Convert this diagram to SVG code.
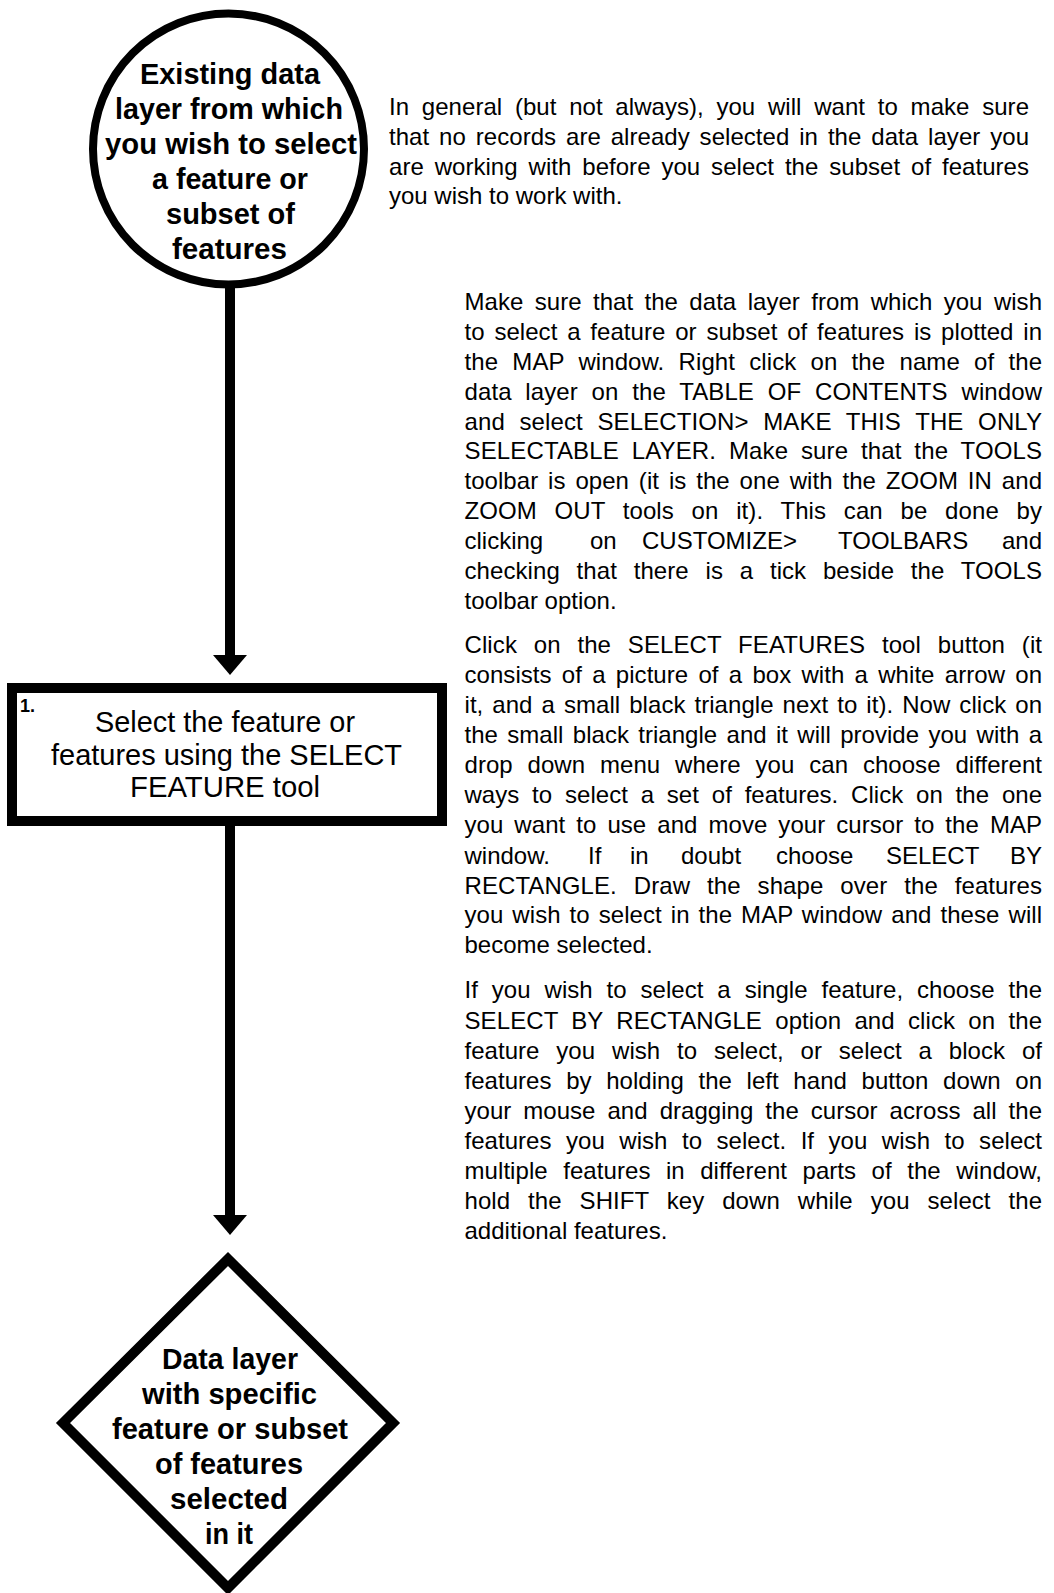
<svg xmlns="http://www.w3.org/2000/svg" width="1054" height="1593" viewBox="0 0 1054 1593">
<style>
.shape{fill:#fff;stroke:#000}
.bold{font-family:"Liberation Sans",Arial,sans-serif;font-weight:bold;font-size:29px;fill:#000;text-anchor:middle}
.box{font-family:"Liberation Sans",Arial,sans-serif;font-size:29px;fill:#000;text-anchor:middle}
.num{font-family:"Liberation Sans",Arial,sans-serif;font-weight:bold;font-size:18px;fill:#000}
.p{font-family:"Liberation Sans",Arial,sans-serif;font-size:24px;fill:#000}
.end{text-anchor:end}
.conn{stroke:#000;stroke-width:10;fill:none}
</style>
<defs>
<marker id="ah" markerUnits="userSpaceOnUse" viewBox="0 0 20 34" markerWidth="20" markerHeight="34" refX="5" refY="17" orient="auto">
<path d="M0,0 L20,17 L0,34 Z" fill="#000"/>
</marker>
</defs>
<rect width="1054" height="1593" fill="#fff"/>

<g id="connectors">
<line class="conn" x1="230" y1="284" x2="230" y2="660" marker-end="url(#ah)"/>
<line class="conn" x1="230" y1="822" x2="230" y2="1220" marker-end="url(#ah)"/>
</g>

<g id="start">
<circle class="shape" cx="228.5" cy="149" r="135.5" stroke-width="8"/>
<text class="bold" x="230" y="84" textLength="180" lengthAdjust="spacingAndGlyphs">Existing data</text>
<text class="bold" x="229" y="119" textLength="228" lengthAdjust="spacingAndGlyphs">layer from which</text>
<text class="bold" x="231" y="154" textLength="252" lengthAdjust="spacingAndGlyphs">you wish to select</text>
<text class="bold" x="230" y="189" textLength="156" lengthAdjust="spacingAndGlyphs">a feature or</text>
<text class="bold" x="230.5" y="224" textLength="129" lengthAdjust="spacingAndGlyphs">subset of</text>
<text class="bold" x="229.5" y="259" textLength="115" lengthAdjust="spacingAndGlyphs">features</text>
</g>

<g id="step1">
<rect class="shape" x="12" y="688" width="430" height="133" stroke-width="10"/>
<text class="num" x="20" y="712">1.</text>
<text class="box" x="225" y="732" textLength="260" lengthAdjust="spacingAndGlyphs">Select the feature or</text>
<text class="box" x="226.5" y="764.5" textLength="351" lengthAdjust="spacingAndGlyphs">features using the SELECT</text>
<text class="box" x="225" y="797" textLength="190" lengthAdjust="spacingAndGlyphs">FEATURE tool</text>
</g>

<g id="result">
<polygon class="shape" points="228,1259 393,1423 228,1588 63,1423" stroke-width="10"/>
<text class="bold" x="230" y="1369" textLength="136" lengthAdjust="spacingAndGlyphs">Data layer</text>
<text class="bold" x="229.5" y="1404" textLength="175" lengthAdjust="spacingAndGlyphs">with specific</text>
<text class="bold" x="230" y="1439" textLength="236" lengthAdjust="spacingAndGlyphs">feature or subset</text>
<text class="bold" x="229" y="1474" textLength="148" lengthAdjust="spacingAndGlyphs">of features</text>
<text class="bold" x="229" y="1509" textLength="118" lengthAdjust="spacingAndGlyphs">selected</text>
<text class="bold" x="229" y="1544" textLength="48" lengthAdjust="spacingAndGlyphs">in it</text>
</g>

<g id="note-general">
<text class="p" x="389" y="115" textLength="640" style="word-spacing:6px">In general (but not always), you will want to make sure</text>
<text class="p" x="389" y="145" textLength="640" style="word-spacing:3.2px">that no records are already selected in the data layer you</text>
<text class="p" x="389" y="175" textLength="640" style="word-spacing:4.2px">are working with before you select the subset of features</text>
<text class="p" x="389" y="204">you wish to work with.</text>
</g>

<g id="note-prepare">
<text class="p" x="464.5" y="310" textLength="577.5" style="word-spacing:4.7px">Make sure that the data layer from which you wish</text>
<text class="p" x="464.5" y="340" textLength="577.5" style="word-spacing:3.1px">to select a feature or subset of features is plotted in</text>
<text class="p" x="464.5" y="369.5" textLength="577.5" style="word-spacing:7.5px">the MAP window. Right click on the name of the</text>
<text class="p" x="464.5" y="399.5" textLength="577.5" style="word-spacing:7px">data layer on the TABLE OF CONTENTS window</text>
<text class="p" x="464.5" y="429.5" textLength="577.5" style="word-spacing:7.9px">and select SELECTION&gt; MAKE THIS THE ONLY</text>
<text class="p" x="464.5" y="459" textLength="577.5" style="word-spacing:6px">SELECTABLE LAYER. Make sure that the TOOLS</text>
<text class="p" x="464.5" y="489" textLength="577.5" style="word-spacing:3.2px">toolbar is open (it is the one with the ZOOM IN and</text>
<text class="p" x="464.5" y="519" textLength="577.5" style="word-spacing:11px">ZOOM OUT tools on it). This can be done by</text>
<text class="p" y="549"><tspan x="464.5">clicking</tspan><tspan x="590">on</tspan><tspan x="642">CUSTOMIZE&gt;</tspan><tspan x="838">TOOLBARS</tspan><tspan x="1042" class="end">and</tspan></text>
<text class="p" x="464.5" y="578.5" textLength="577.5" style="word-spacing:10px">checking that there is a tick beside the TOOLS</text>
<text class="p" x="464.5" y="608.5">toolbar option.</text>
</g>

<g id="note-select">
<text class="p" x="464.5" y="652.5" textLength="577.5" style="word-spacing:10px">Click on the SELECT FEATURES tool button (it</text>
<text class="p" x="464.5" y="682.5" textLength="577.5" style="word-spacing:3.5px">consists of a picture of a box with a white arrow on</text>
<text class="p" x="464.5" y="712.5" textLength="577.5" style="word-spacing:2.3px">it, and a small black triangle next to it). Now click on</text>
<text class="p" x="464.5" y="742.5" textLength="577.5" style="word-spacing:2.6px">the small black triangle and it will provide you with a</text>
<text class="p" x="464.5" y="772.5" textLength="577.5" style="word-spacing:8.2px">drop down menu where you can choose different</text>
<text class="p" x="464.5" y="803" textLength="577.5" style="word-spacing:6.1px">ways to select a set of features. Click on the one</text>
<text class="p" x="464.5" y="833" textLength="577.5" style="word-spacing:4.3px">you want to use and move your cursor to the MAP</text>
<text class="p" y="863.5"><tspan x="464.5">window.</tspan><tspan x="588">If</tspan><tspan x="630">in</tspan><tspan x="681">doubt</tspan><tspan x="776">choose</tspan><tspan x="886">SELECT</tspan><tspan x="1042" class="end">BY</tspan></text>
<text class="p" x="464.5" y="893.5" textLength="577.5" style="word-spacing:10.2px">RECTANGLE. Draw the shape over the features</text>
<text class="p" x="464.5" y="923" textLength="577.5" style="word-spacing:2.3px">you wish to select in the MAP window and these will</text>
<text class="p" x="464.5" y="953">become selected.</text>
</g>

<g id="note-single">
<text class="p" x="464.5" y="998" textLength="577.5" style="word-spacing:7.2px">If you wish to select a single feature, choose the</text>
<text class="p" x="464.5" y="1028.5" textLength="577.5" style="word-spacing:6.5px">SELECT BY RECTANGLE option and click on the</text>
<text class="p" x="464.5" y="1059" textLength="577.5" style="word-spacing:10.2px">feature you wish to select, or select a block of</text>
<text class="p" x="464.5" y="1088.5" textLength="577.5" style="word-spacing:7.9px">features by holding the left hand button down on</text>
<text class="p" x="464.5" y="1119" textLength="577.5" style="word-spacing:5.3px">your mouse and dragging the cursor across all the</text>
<text class="p" x="464.5" y="1148.5" textLength="577.5" style="word-spacing:7.8px">features you wish to select. If you wish to select</text>
<text class="p" x="464.5" y="1179" textLength="577.5" style="word-spacing:8.7px">multiple features in different parts of the window,</text>
<text class="p" x="464.5" y="1209" textLength="577.5" style="word-spacing:11.3px">hold the SHIFT key down while you select the</text>
<text class="p" x="464.5" y="1239">additional features.</text>
</g>
</svg>
